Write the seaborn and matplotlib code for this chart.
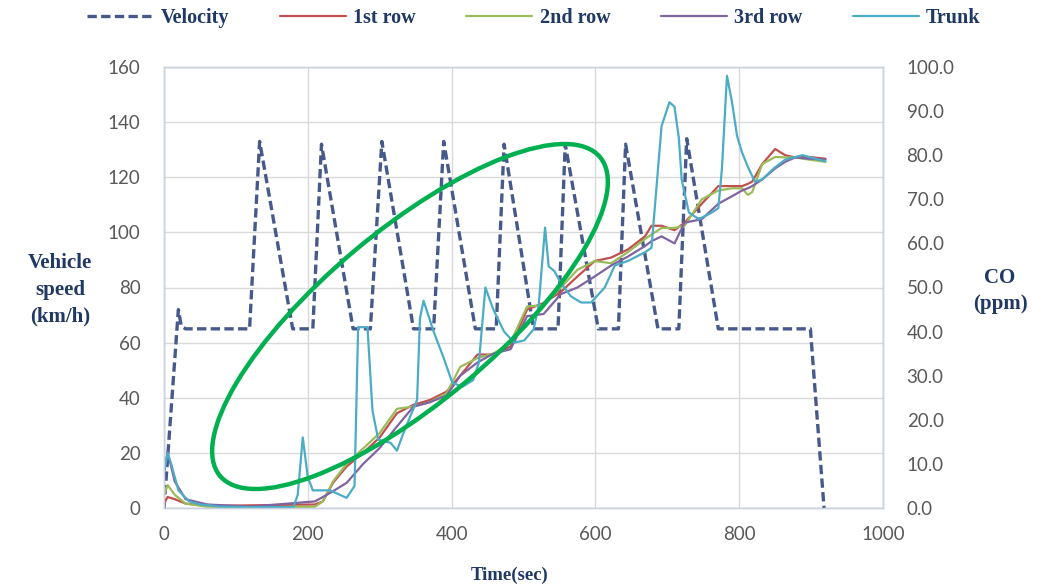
import matplotlib
matplotlib.use("Agg")
import matplotlib.pyplot as plt
from matplotlib.patches import Ellipse
from matplotlib.font_manager import FontProperties
import seaborn as sns
import pandas as pd

# ---------------- data ----------------
vel_t = [0, 20, 24, 30, 119, 133, 179, 207, 219, 263, 287, 303, 347, 375, 389,
         433, 462, 473, 514, 548, 558, 604, 632, 642, 687, 716, 727, 771, 899, 918]
vel_v = [0, 72, 66, 65, 65, 133, 65, 65, 132, 65, 65, 133, 65, 65, 133,
         65, 65, 132, 65, 65, 132, 65, 65, 132, 65, 65, 134, 65, 65, 0]

trunk_t = [0, 5, 10, 20, 35, 50, 80, 120, 180, 186, 193, 200, 207, 231, 254, 265,
           270, 283, 290, 298, 315, 324, 333, 352, 356, 361, 375, 389, 401, 415,
           430, 438, 447, 458, 473, 487, 501, 514, 521, 530, 535, 543, 552, 566,
           580, 594, 613, 627, 645, 669, 678, 692, 703, 710, 716, 720, 730, 744,
           762, 771, 776, 783, 790, 797, 804, 813, 822, 832, 848, 864, 888, 920]
trunk_co = [8, 12.5, 10, 4, 1.5, 0.8, 0.3, 0.2, 0.2, 3, 16, 7, 4, 4, 2.3, 5,
            41, 41, 22, 15.5, 14.8, 13, 17, 24.5, 43, 47, 40, 34, 28.4, 27.5,
            29, 33, 50, 45, 40, 37.5, 38, 40.5, 45.7, 63.6, 54.8, 53.7, 51, 48,
            46.6, 46.6, 50, 55, 56, 58, 59, 86.6, 92, 91, 84, 74.5, 67, 65.5,
            67, 68, 77, 98, 92, 84.4, 80.6, 77, 74, 74.5, 77, 79, 80, 78.6]

row_t = [0, 5, 15, 30, 60, 120, 210, 221, 235, 254, 277, 300, 324, 347, 370, 393,
         412, 436, 458, 482, 505, 528, 552, 575, 599, 622, 645, 669, 678, 692,
         710, 724, 748, 771, 790, 804, 812, 818, 832, 850, 864, 878, 897, 920]
row1_co = [1, 2.5, 2, 1, 0.5, 0.6, 0.8, 1.5, 5.7, 9.4, 12.5, 16, 21.5, 23.4, 24.5, 26.4,
           30, 34.8, 34.8, 36.6, 45, 46.5, 49, 52.5, 56, 56.8, 58.6, 61.6, 64, 64,
           63, 64.7, 69, 73, 73, 73, 73.5, 74, 78, 81.4, 80, 79.5, 79.6, 79.2]
row2_co = [3, 5.2, 3, 1, 0.3, 0.2, 0.3, 1.5, 6, 10, 13.5, 17, 22.5, 23, 24, 26,
           32, 34, 35, 37.5, 45.7, 46, 50, 54, 56, 55.5, 58, 61, 62, 63.5,
           63.5, 64, 70, 72, 72.5, 72.5, 71, 71.6, 78, 79.6, 79.5, 79.5, 79, 78.5]
row3_co = [8, 12.7, 6, 2, 0.8, 0.3, 1.5, 2.5, 3.8, 5.7, 10, 13.6, 18.5, 23, 24, 25.5,
           30, 33, 35, 36, 43.5, 44, 48.5, 50, 52.5, 55, 57, 59.4, 60.5, 61.6,
           60, 64.7, 65.5, 69, 70.7, 72, 72.5, 73, 74.5, 77, 78.5, 79.5, 79.2, 79]

x_ticks = [0, 200, 400, 600, 800, 1000]
left_ticks = [0, 20, 40, 60, 80, 100, 120, 140, 160]
right_ticks = [0, 10, 20, 30, 40, 50, 60, 70, 80, 90, 100]

# ---------------- style ----------------
sns.set_style("white")
plt.rcParams["font.family"] = ["Lato", "DejaVu Sans"]

W, H = 1051, 586
fig = plt.figure(figsize=(W / 100, H / 100), dpi=100)
L, R, T, B = 164, 883, 67, 508
ax = fig.add_axes([L / W, 1 - B / H, (R - L) / W, (B - T) / H])
ax2 = ax.twinx()

navy = "#1F3864"
c_vel = "#46598A"
c1, c2, c3, c4 = "#C0504D", "#9BBB59", "#8064A2", "#4BACC6"

vel_df = pd.DataFrame({"t": vel_t, "v": vel_v})
sns.lineplot(data=vel_df, x="t", y="v", ax=ax, color=c_vel, lw=2.4,
             dashes=False, linestyle=(0, (2.8, 1.3)), label="Velocity", legend=False,
             sort=False, zorder=3)

for tt, yy, col, lab in [(row_t, row1_co, c1, "1st row"),
                         (row_t, row2_co, c2, "2nd row"),
                         (row_t, row3_co, c3, "3rd row"),
                         (trunk_t, trunk_co, c4, "Trunk")]:
    d = pd.DataFrame({"t": tt, "co": yy})
    sns.lineplot(data=d, x="t", y="co", ax=ax2, color=col, lw=1.6,
                 label=lab, legend=False, sort=False)

ax.set_xlim(0, 1000)
ax.set_ylim(0, 160)
ax2.set_ylim(0, 100)
ax.set_xticks(x_ticks)
ax.set_yticks(left_ticks)
ax2.set_yticks(right_ticks)
ax2.set_yticklabels([f"{v:.1f}" for v in right_ticks])
ax.set_xlabel("")
ax.set_ylabel("")
ax2.set_ylabel("")

ax.grid(True, color="#D9D9D9", lw=1)
ax.set_axisbelow(True)
for a in (ax, ax2):
    for s in a.spines.values():
        s.set_color("#C9D3E0")
        s.set_linewidth(1)
    a.tick_params(length=0, labelsize=13.5, labelcolor="#595959")
ax.tick_params(axis="y", pad=17)
ax.tick_params(axis="x", pad=13)
ax2.tick_params(axis="y", pad=17)

# legend
h1, l1 = ax.get_legend_handles_labels()
h2, l2 = ax2.get_legend_handles_labels()
fig.legend(h1 + h2, l1 + l2, loc="center", bbox_to_anchor=(0.508, 1 - 18 / H),
           ncol=5, frameon=False, handlelength=3.3, handletextpad=0.35,
           columnspacing=2.5, labelcolor=navy,
           prop=FontProperties(family="Liberation Serif", weight="bold", size=14.5))

lab_font = dict(family="Liberation Serif", weight="bold", size=15, color=navy)
fig.text(60 / W, 1 - 290 / H, "Vehicle\nspeed\n(km/h)", ha="center", va="center",
         linespacing=1.45, **lab_font)
fig.text(1000 / W, 1 - 291 / H, "CO\n(ppm)", ha="center", va="center",
         linespacing=1.45, **lab_font)
fig.text(510 / W, 1 - 575 / H, "Time(sec)", ha="center", va="center",
         family="Liberation Serif", weight="bold", size=13.5, color=navy)

# green highlight ellipse (annotation drawn on the original figure)
ell = Ellipse((4.10, (H - 316.5) / 100), width=4.96, height=1.72, angle=40,
              transform=fig.dpi_scale_trans, fill=False, edgecolor="#00B050",
              lw=3.2, zorder=10)
fig.add_artist(ell)

fig.savefig("out.png", dpi=100)
